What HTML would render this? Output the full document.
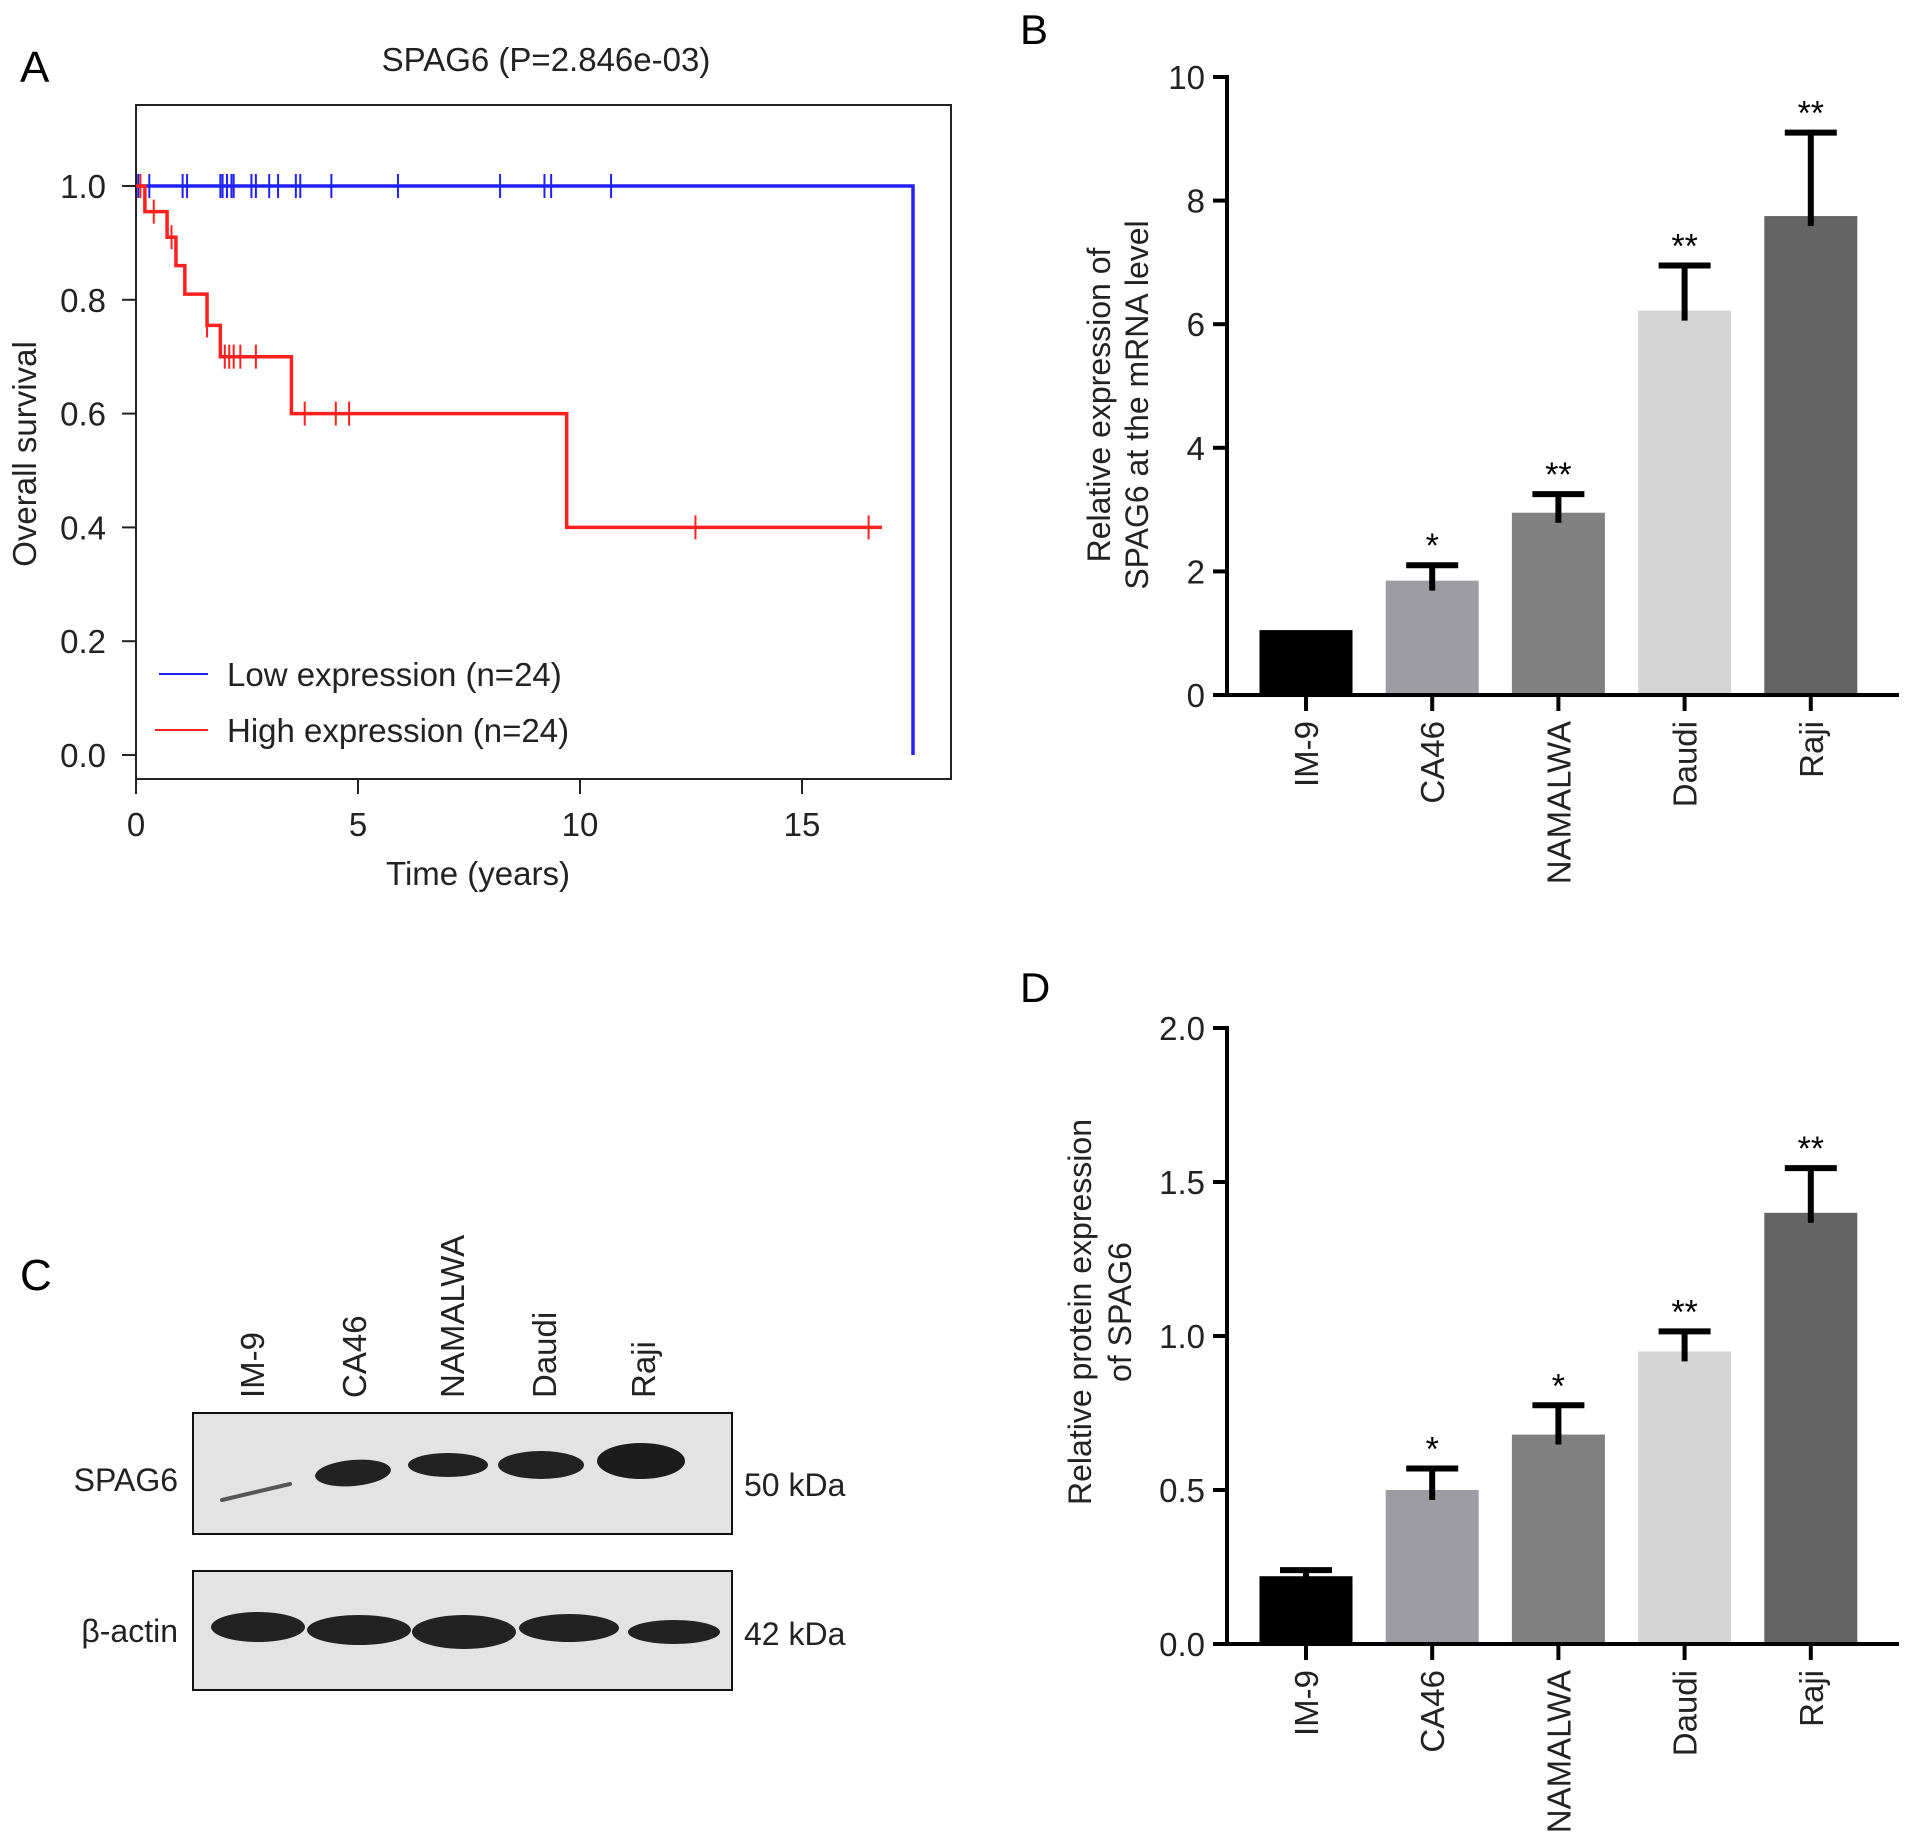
<!DOCTYPE html>
<html><head><meta charset="utf-8"><style>
html,body{margin:0;padding:0;background:#fff}
svg{display:block;font-family:"Liberation Sans",Arial,sans-serif}
</style></head><body>
<svg id="fig" width="1913" height="1844" viewBox="0 0 1913 1844" xmlns="http://www.w3.org/2000/svg">
<text x="20" y="82" font-size="44">A</text>
<text x="546" y="71" font-size="33" text-anchor="middle" fill="#222">SPAG6 (P=2.846e-03)</text>
<rect x="136" y="105" width="815" height="674" fill="none" stroke="#222" stroke-width="2"/>
<g id="km"></g>
<text transform="translate(36,454) rotate(-90)" font-size="33" text-anchor="middle" fill="#222">Overall survival</text>
<text x="478" y="885" font-size="33" text-anchor="middle" fill="#222">Time (years)</text>
<g>
<line x1="159" y1="674" x2="208" y2="674" stroke="#2020ff" stroke-width="2"/>
<text x="227" y="686" font-size="33" fill="#222">Low expression (n=24)</text>
<line x1="155" y1="730" x2="208" y2="730" stroke="#ff2020" stroke-width="2"/>
<text x="227" y="742" font-size="33" fill="#222">High expression (n=24)</text>
</g>

<text x="1020" y="44" font-size="42">B</text>
<g id="chartB"></g>
<text transform="translate(1110,405) rotate(-90)" font-size="32" text-anchor="middle" fill="#222">Relative expression of</text>
<text transform="translate(1148,405) rotate(-90)" font-size="32" text-anchor="middle" fill="#222">SPAG6 at the mRNA level</text>

<text x="1020" y="1002" font-size="42">D</text>
<g id="chartD"></g>
<text transform="translate(1091,1312) rotate(-90)" font-size="32" text-anchor="middle" fill="#222">Relative protein expression</text>
<text transform="translate(1131,1312) rotate(-90)" font-size="32" text-anchor="middle" fill="#222">of SPAG6</text>

<text x="20" y="1290" font-size="44">C</text>
<g id="blot">
<rect x="193" y="1413" width="539" height="121" fill="#e3e3e3" stroke="#111" stroke-width="2"/>
<rect x="193" y="1571" width="539" height="119" fill="#e3e3e3" stroke="#111" stroke-width="2"/>
<line x1="222" y1="1500" x2="290" y2="1484" stroke="#555" stroke-width="4" stroke-linecap="round"/>
<ellipse cx="353" cy="1473" rx="38" ry="13" fill="#222" transform="rotate(-5 353 1473)"/>
<ellipse cx="448" cy="1465" rx="40" ry="12" fill="#222"/>
<ellipse cx="541" cy="1465" rx="43" ry="14" fill="#222"/>
<ellipse cx="641" cy="1461" rx="44" ry="18" fill="#1c1c1c"/>
<ellipse cx="258" cy="1627" rx="47" ry="15" fill="#222"/>
<ellipse cx="359" cy="1630" rx="52" ry="15" fill="#222"/>
<ellipse cx="464" cy="1632" rx="52" ry="17" fill="#222"/>
<ellipse cx="569" cy="1628" rx="50" ry="14" fill="#222"/>
<ellipse cx="674" cy="1632" rx="46" ry="12" fill="#222"/>
<text x="178" y="1491" font-size="32" text-anchor="end" fill="#222">SPAG6</text>
<text x="178" y="1642" font-size="32" text-anchor="end" fill="#222">β-actin</text>
<text x="744" y="1496" font-size="32" fill="#222">50 kDa</text>
<text x="744" y="1645" font-size="32" fill="#222">42 kDa</text>
</g>
</svg>
<script>
const NS='http://www.w3.org/2000/svg';
function mk(parent,tag,attrs,text){const e=document.createElementNS(NS,tag);for(const k in attrs)e.setAttribute(k,attrs[k]);if(text!==undefined)e.textContent=text;parent.appendChild(e);return e;}

// ---- KM data ----
const kmXTicks=[0,5,10,15];
const kmYTicks=[0.0,0.2,0.4,0.6,0.8,1.0];
const lowTimes=[0,17.5];
const lowSurv=[1.0,0.0];
const lowCensor=[0.05,0.3,1.05,1.15,1.9,1.95,2.05,2.15,2.2,2.6,2.7,3.0,3.2,3.6,3.7,4.4,5.9,8.2,9.2,9.35,10.7];
const highTimes=[0,0.2,0.7,0.9,1.1,1.6,1.9,3.5,9.7];
const highSurv=[1.0,0.955,0.91,0.86,0.81,0.755,0.70,0.60,0.40];
const highEnd=16.8;
const highCensor=[0.1,0.4,0.8,1.6,2.0,2.1,2.2,2.35,2.7,3.8,4.5,4.8,12.6,16.5];

const kx=t=>136+t*44.4, ky=s=>755-s*569;
const km=document.getElementById('km');
kmYTicks.forEach(v=>{
 const l=mk(km,'line',{x1:122,x2:136,y1:ky(v),y2:ky(v),stroke:'#222','stroke-width':2});
 
 
 const t=mk(km,'text',{x:106,y:ky(v)+12,'font-size':33,'text-anchor':'end',fill:'#222'},v.toFixed(1));
 
 
});
kmXTicks.forEach(v=>{
 const l=mk(km,'line',{x1:kx(v),x2:kx(v),y1:779,y2:794,stroke:'#222','stroke-width':2});
 
 
 const t=mk(km,'text',{x:kx(v),y:836,'font-size':33,'text-anchor':'middle',fill:'#222'},v);
 
 
});
function stepPath(times,surv,end){let d='M'+kx(times[0])+','+ky(surv[0]);for(let i=1;i<times.length;i++){d+=' H'+kx(times[i])+' V'+ky(surv[i]);}d+=' H'+kx(end);return d;}
function survAt(times,surv,t){let s=surv[0];for(let i=0;i<times.length;i++)if(times[i]<=t)s=surv[i];return s;}
const lp=mk(km,'path',{d:'M'+kx(0)+','+ky(1)+' H'+kx(lowTimes[1])+' V'+ky(lowSurv[1]),fill:'none',stroke:'#2020ff','stroke-width':3.5});


lowCensor.forEach(t=>{const y=ky(1);const c=mk(km,'line',{x1:kx(t),x2:kx(t),y1:y-12,y2:y+12,stroke:'#2020ff','stroke-width':2});
 
 });
const hp=mk(km,'path',{d:stepPath(highTimes,highSurv,highEnd),fill:'none',stroke:'#ff2020','stroke-width':3.5});


highCensor.forEach(t=>{const y=ky(survAt(highTimes,highSurv,t));const c=mk(km,'line',{x1:kx(t),x2:kx(t),y1:y-12,y2:y+12,stroke:'#ff2020','stroke-width':2});
 
 });

// ---- Bar charts ----
const categories=['IM-9','CA46','NAMALWA','Daudi','Raji'];
const barColors=['#000000','#9c9ca2','#808080','#d4d4d4','#646464'];
const mrnaValues=[1.05,1.85,2.95,6.22,7.75];
const mrnaErrors=[0,0.25,0.3,0.73,1.35];
const mrnaStars=['','*','**','**','**'];
const mrnaTicks=[0,2,4,6,8,10];
const protValues=[0.22,0.50,0.68,0.95,1.40];
const protErrors=[0.02,0.07,0.095,0.065,0.145];
const protStars=['','*','*','**','**'];
const protTicks=[0.0,0.5,1.0,1.5,2.0];

function barChart(g,vals,errs,stars,ticks,max,y0,y1,dec,prefix){
 const X0=1227, sy=v=>y0-(v/max)*(y0-y1), cx=i=>1306+i*126.2, bw=93;
 const ya=mk(g,'line',{x1:X0,x2:X0,y1:y1-2,y2:y0+2,stroke:'#000','stroke-width':4});
 
 
 ticks.forEach(v=>{
  const l=mk(g,'line',{x1:X0-14,x2:X0,y1:sy(v),y2:sy(v),stroke:'#000','stroke-width':4});
  
  
  const t=mk(g,'text',{x:X0-22,y:sy(v)+12,'font-size':33,'text-anchor':'end',fill:'#222'},v.toFixed(dec));
  
  
 });
 vals.forEach((v,i)=>{
  const r=mk(g,'rect',{x:cx(i)-bw/2,y:sy(v),width:bw,height:y0-sy(v),fill:barColors[i]});
  
  
  if(errs[i]>0){
   const top=sy(v+errs[i]);
   const e=mk(g,'path',{d:'M'+cx(i)+','+(sy(v)+10)+' V'+top+' M'+(cx(i)-26)+','+top+' H'+(cx(i)+26),stroke:'#000','stroke-width':6,fill:'none'});
   
   
  }
  if(stars[i]){
   const s=mk(g,'text',{x:cx(i),y:sy(v+errs[i])-8,'font-size':34,'text-anchor':'middle',fill:'#000'},stars[i]);
   
   
  }
  const tk=mk(g,'line',{x1:cx(i),x2:cx(i),y1:y0,y2:y0+16,stroke:'#000','stroke-width':4});
  
  
  const lb=mk(g,'text',{transform:'translate('+(cx(i)+12)+','+(y0+26)+') rotate(-90)','font-size':33,'text-anchor':'end',fill:'#222'},categories[i]);
  
  
 });
 const xa=mk(g,'line',{x1:X0-14,x2:1899,y1:y0,y2:y0,stroke:'#000','stroke-width':4});
 
 
}
barChart(document.getElementById('chartB'),mrnaValues,mrnaErrors,mrnaStars,mrnaTicks,10,695,77,0,'mrna');
barChart(document.getElementById('chartD'),protValues,protErrors,protStars,protTicks,2,1644,1028,1,'protein');

// ---- Blot lane labels ----
const laneX=[264,366,464,556,655];
const blot=document.getElementById('blot');
categories.forEach((c,i)=>{
 const t=mk(blot,'text',{transform:'translate('+laneX[i]+',1398) rotate(-90)','font-size':33,fill:'#222'},c);
 
 
});
</script>
</body></html>
